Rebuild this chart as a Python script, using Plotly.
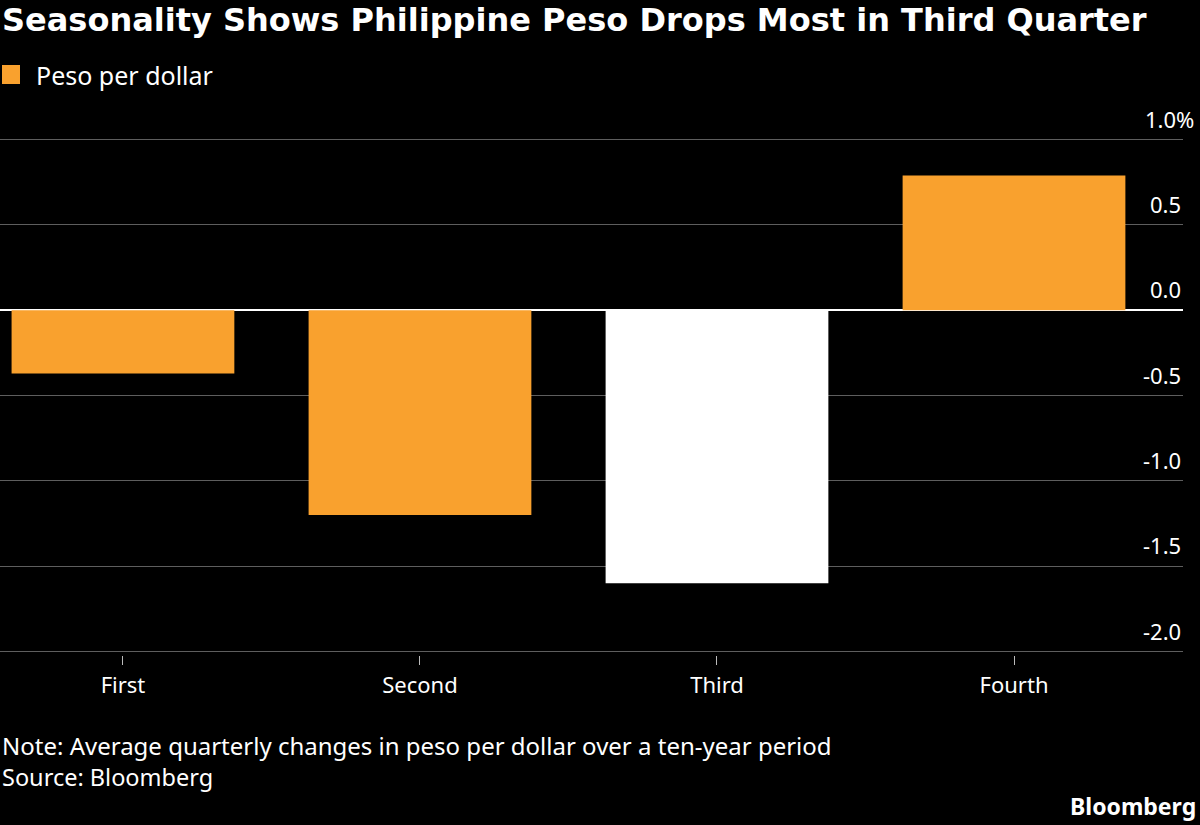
import plotly.graph_objects as go

categories = ["First", "Second", "Third", "Fourth"]
values = [-0.37, -1.2, -1.6, 0.79]
bar_colors = ["#F9A12E", "#F9A12E", "#FFFFFF", "#F9A12E"]
ytick_vals = [1.0, 0.5, 0.0, -0.5, -1.0, -1.5, -2.0]
ytick_text = ["1.0%", "0.5", "0.0", "-0.5", "-1.0", "-1.5", "-2.0"]

W, H = 1200, 825
L, R, T, B = 0, 17, 136, 170
PW, PH = W - L - R, H - T - B
FONT = "Noto Sans"

def px(x):
    return (x - L) / PW

def py(y):
    return (H - B - y) / PH

fig = go.Figure()
fig.add_trace(go.Bar(
    x=list(range(len(categories))), y=values,
    marker=dict(color=bar_colors, line=dict(width=0)),
    width=0.75, showlegend=False, hoverinfo="skip",
))

# y tick labels above gridlines
for v, t in zip(ytick_vals, ytick_text):
    fig.add_annotation(
        x=px(1196) if t.endswith("%") else px(1183), xref="paper", xanchor="right",
        y=v, yref="y", yanchor="middle", yshift=21,
        text=t, showarrow=False,
        font=dict(family=FONT, size=22, color="#FFFFFF"),
    )

fig.add_annotation(x=px(0), xref="paper", xanchor="left", y=py(20), yref="paper",
                   yanchor="middle", text="<b>Seasonality Shows Philippine Peso Drops Most in Third Quarter</b>",
                   showarrow=False, font=dict(family="DejaVu Sans", size=32, color="#FFFFFF"))
fig.add_shape(type="rect", xref="paper", yref="paper", x0=px(2), x1=px(20), y0=py(65), y1=py(84),
              fillcolor="#F9A12E", line=dict(width=0))
fig.add_annotation(x=px(34), xref="paper", xanchor="left", y=py(75), yref="paper", yanchor="middle",
                   text="Peso per dollar", showarrow=False,
                   font=dict(family=FONT, size=25, color="#FFFFFF"))
fig.add_annotation(x=px(0), xref="paper", xanchor="left", y=py(745), yref="paper", yanchor="middle",
                   text="Note: Average quarterly changes in peso per dollar over a ten-year period",
                   showarrow=False, font=dict(family=FONT, size=24, color="#FFFFFF"))
fig.add_annotation(x=px(0), xref="paper", xanchor="left", y=py(777), yref="paper", yanchor="middle",
                   text="Source: Bloomberg", showarrow=False,
                   font=dict(family=FONT, size=23.5, color="#FFFFFF"))
fig.add_annotation(x=px(1198), xref="paper", xanchor="right", y=py(806), yref="paper", yanchor="middle",
                   text="<b>Bloomberg</b>", showarrow=False,
                   font=dict(family=FONT, size=23, color="#FFFFFF"))

fig.update_layout(
    width=W, height=H,
    margin=dict(l=L, r=R, t=T, b=B),
    paper_bgcolor="#000000", plot_bgcolor="#000000",
    bargap=0.25,
    xaxis=dict(
        range=[-0.414, 3.569], tickmode="array",
        tickvals=list(range(len(categories))), ticktext=categories,
        showgrid=False, zeroline=False, showline=False,
        ticks="outside", ticklen=9, tickwidth=1, tickcolor="#BBBBBB",
        tickfont=dict(family=FONT, size=22, color="#FFFFFF"),
        ticklabelstandoff=2, fixedrange=True,
    ),
    yaxis=dict(
        range=[-2.02, 1.021], tickmode="array", tickvals=ytick_vals,
        showticklabels=False, showgrid=True, gridcolor="#5E5E5E", gridwidth=1,
        zeroline=True, zerolinecolor="#FFFFFF", zerolinewidth=2,
        showline=False, ticks="", fixedrange=True,
    ),
)

fig.write_html("out.html")
